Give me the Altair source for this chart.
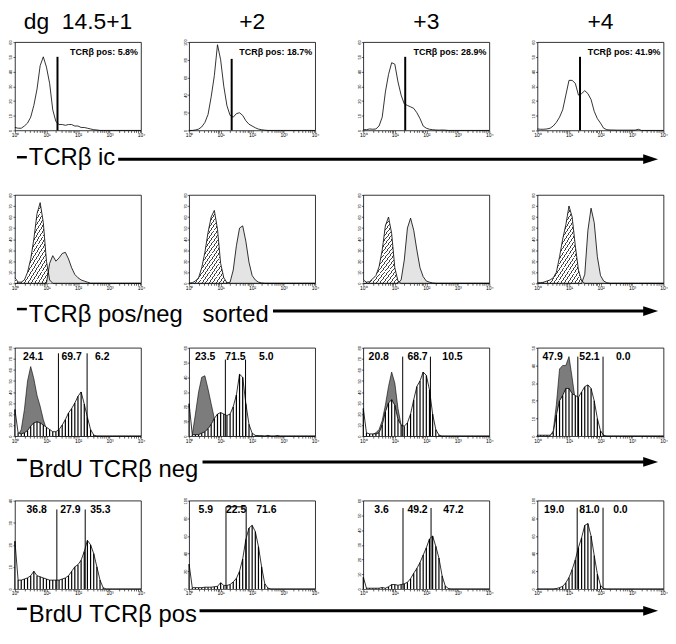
import altair as alt
import pandas as pd

# ---------------- data ----------------
# histogram bins on a log10 fluorescence axis (0 .. 4 decades)
LOG_BINS = [round(0.1 * i, 1) for i in range(41)]

DAY_TITLES = ["dg\u00a0\u00a014.5+1", "+2", "+3", "+4"]
ROW_LABELS = ["TCRβ ic", "TCRβ pos/neg\u00a0\u00a0 sorted", "BrdU TCRβ neg", "BrdU TCRβ pos"]

# row 1 : intracellular TCRβ
ic_d1 = [2, 1.5, 1.5, 3, 5, 9, 17, 28, 44, 50, 43, 32, 14, 6, 4, 4, 3.5, 4, 4, 3, 3, 2, 2, 1.5, 1, 0.5, 0.3,
         0, 0, 0, 0, 0, 0, 0, 0, 0, 0, 0, 0, 0, 0]
ic_d2 = [0, 0, 0.5, 1.5, 4, 9, 18, 38, 62, 97, 80, 50, 28, 17, 15, 19, 20, 17, 11, 7, 5, 3, 1.5, 0.8, 0.3,
         0, 0, 0, 0, 0, 0, 0, 0, 0, 0, 0, 0, 0, 0, 0, 0]
ic_d3 = [0.5, 0.5, 1, 0.8, 1, 3, 9, 26, 38, 46, 45, 33, 24, 18, 17, 16, 15, 12, 8, 3, 1.5, 0.8, 0.5, 0.3, 0.2, 0.3, 0.2,
         0, 0, 0, 0, 0, 0, 0, 0, 0, 0, 0, 0, 0, 0]
ic_d4 = [1, 0.8, 0.8, 1, 1.5, 3, 5.5, 9, 14, 24, 34, 34, 32, 24, 25, 27, 25, 21, 13, 8, 5, 1.5, 0.5, 0.3, 0.3,
         0.2, 0.2, 0.2, 0.2, 0.2, 0.2, 0.2, 0.8, 0, 0, 0, 0, 0, 0, 0, 0]
IC_GATE = [1.35, 1.35, 1.33, 1.35]
IC_GATE_TOP = [50, 81, 50, 50]
IC_TEXT = ["TCRβ pos: 5.8%", "TCRβ pos: 18.7%", "TCRβ pos: 28.9%", "TCRβ pos: 41.9%"]
Y_MAX_R1 = [60, 100, 60, 60]

# row 2 : sorted TCRβ negative (hatched) / positive (dotted)
neg_d1 = [5, 1, 1, 3, 10, 22, 40, 63, 73, 55, 20, 3, 0] + [0] * 28
pos_d1 = [0] * 11 + [18, 25, 20, 23, 27, 28, 22, 14, 8, 5, 3, 2, 1] + [0] * 17
neg_d2 = [0, 0.5, 2, 5, 14, 28, 46, 60, 66, 49, 18, 5, 0.5] + [0] * 28
pos_d2 = [0] * 13 + [1, 12, 34, 50, 52, 38, 19, 7, 3, 1, 0.3] + [0] * 17
neg_d3 = [3, 1, 1.5, 4, 7, 15, 30, 52, 60, 45, 14, 2] + [0] * 29
pos_d3 = [0] * 12 + [3, 21, 50, 59, 48, 30, 14, 6, 2, 1, 0.3] + [0] * 18
neg_d4 = [0.5, 0.5, 1, 2, 3, 5, 10, 24, 40, 53, 70, 60, 34, 12, 2] + [0] * 26
pos_d4 = [0] * 15 + [8, 48, 68, 55, 24, 7, 2, 0.5] + [0] * 18
Y_MAX_R2 = [80, 80, 80, 80]

# row 3 : BrdU in TCRβ negative cells (grey = control, striped = BrdU)
ctrl_neg_d1 = [0, 0.5, 6, 24, 50, 63, 52, 37, 27, 15, 6, 1.5] + [0] * 29
brdu_neg_d1 = [24, 3, 2, 3, 5, 9, 12, 13, 12, 10, 8, 6, 4, 4, 6, 10, 15, 21, 25, 30, 36, 40, 29, 17, 6, 1] + [0] * 15
ctrl_neg_d2 = [0, 1, 15, 30, 40, 41, 32, 22, 12, 6, 2] + [0] * 30
brdu_neg_d2 = [22, 1, 1, 1, 2, 3, 5, 8, 12, 15, 16, 15, 14, 15, 20, 28, 42, 40, 22, 8, 2, 0.5, 0.3, 0.3, 0, 0.5, 0, 0, 0.4] + [0] * 12
ctrl_neg_d3 = [0, 0, 0, 1.5, 3, 6, 14, 28, 45, 58, 48, 25, 10, 3, 0.5] + [0] * 26
brdu_neg_d3 = [25, 3, 2, 2, 2, 3, 10, 22, 30, 33, 28, 15, 10, 9, 12, 20, 33, 45, 50, 58, 55, 42, 20, 6, 1] + [0] * 16
ctrl_neg_d4 = [0, 0, 0, 0, 0, 3, 18, 38, 40, 40, 45, 33, 20, 10, 3, 0.5] + [0] * 25
brdu_neg_d4 = [0.5, 0.5, 0.5, 0.5, 0.5, 2, 12, 20, 23, 27, 27, 24, 23, 22, 25, 28, 29, 27, 20, 10, 3, 0.5] + [0] * 19
NEG_GATES = [[1.38, 2.29], [1.15, 1.79], [1.25, 2.13], [1.28, 2.08]]
NEG_GATE_TOP = [75, 52, 72, 45]
NEG_TEXT = [["24.1", "69.7", "6.2"], ["23.5", "71.5", "5.0"], ["20.8", "68.7", "10.5"], ["47.9", "52.1", "0.0"]]
NEG_TEXT_AT = [[0.58, 1.8, 2.77], [0.51, 1.47, 2.45], [0.49, 1.72, 2.83], [0.48, 1.65, 2.72]]
Y_MAX_R3 = [80, 60, 80, 50]

# row 4 : BrdU in TCRβ positive cells
brdu_pos_d1 = [21.6, 4, 4, 4.5, 5, 6, 8, 6, 5.5, 5, 4.5, 4, 4, 4, 4, 4.5, 5, 6, 8, 10, 11, 13, 17, 22, 20, 16, 10, 4, 0.5] + [0] * 12
brdu_pos_d2 = [28, 1.5, 1.5, 1.5, 1.5, 2, 2, 2, 2.5, 3, 7, 4, 4, 5, 8, 12, 20, 34, 56, 69, 72, 65, 48, 25, 6, 1] + [0] * 15
brdu_pos_d3 = [8, 0.5, 0.5, 0.5, 0.5, 0.5, 1, 0.5, 1.5, 3, 3, 2.5, 3, 3.5, 4.5, 7, 10.7, 14, 18, 23, 28, 34, 36, 29, 21, 9, 2, 0.3] + [0] * 13
brdu_pos_d4 = [0, 0, 0, 0, 0, 0, 0.5, 1.5, 3, 7, 13, 22, 33, 47, 58, 72, 74, 60, 38, 17, 4, 0.5] + [0] * 19
POS_GATES = [[1.33, 2.23], [1.17, 1.81], [1.26, 2.15], [1.26, 2.08]]
POS_GATE_TOP = [36, 93, 55, 92]
POS_BRACKET = [False, True, False, False]
POS_TEXT = [["36.8", "27.9", "35.3"], ["5.9", "22.5", "71.6"], ["3.6", "49.2", "47.2"], ["19.0", "81.0", "0.0"]]
POS_TEXT_AT = [[0.69, 1.76, 2.71], [0.53, 1.49, 2.45], [0.58, 1.72, 2.86], [0.53, 1.65, 2.63]]
Y_MAX_R4 = [40, 100, 60, 100]

# ---------------- layout / style ----------------
FONT = "Liberation Sans"
PANEL_W = 127
PANEL_H = 89
COL_GAP = 48.5
ROW_GAP = 65
LINE_Y = [29, 28, 26, 22]          # arrow line, below the row's plot bottom
TEXT_Y = [35, 39, 41, 33]          # label baseline, below the row's plot bottom
LINE_START = [104, 260, 189, 186]
ARROW_END = 634
ARROW_HEAD = 640.5

XTICKS = [k * 10 ** d for d in range(4) for k in range(1, 10)] + [10000]
X_LABELS = ("datum.value==1?'10⁰':datum.value==10?'10¹':datum.value==100?'10²':"
            "datum.value==1000?'10³':datum.value==10000?'10⁴':''")


def xenc(field):
    return alt.X(f"{field}:Q",
                 scale=alt.Scale(type="log", domain=[1, 10000]),
                 axis=alt.Axis(values=XTICKS, labelExpr=X_LABELS, tickSize=2, tickWidth=0.6,
                               tickColor="black", labelFontSize=5, labelPadding=0, labelFlush=False,
                               labelOverlap=False, grid=False, domain=False, labelColor="black",
                               labelFont=FONT, title=None))


def yenc(field, ymax):
    step = 20 if ymax >= 100 else 10
    return alt.Y(f"{field}:Q",
                 scale=alt.Scale(domain=[0, ymax], nice=False),
                 axis=alt.Axis(values=list(range(0, ymax + 1, step)), tickSize=2, tickWidth=0.6,
                               tickColor="black", labelFontSize=4, labelAngle=270, labelPadding=0,
                               grid=False, domain=False, labelColor="black", labelFont=FONT,
                               title=None))


def series_df(values):
    return pd.DataFrame({"fl": [10 ** b for b in LOG_BINS], "v": values, "zero": [0] * len(values)})


def hatch():
    stops = []
    n = 42
    for i in range(n):
        a = round(i / n, 4)
        b = round((i + 0.28) / n, 4)
        c = round((i + 1) / n, 4)
        stops += [alt.GradientStop(offset=a, color="#444444"), alt.GradientStop(offset=b, color="#444444"),
                  alt.GradientStop(offset=b, color="white"), alt.GradientStop(offset=c, color="white")]
    return alt.LinearGradient(gradient="linear", stops=stops, x1=0, y1=0, x2=1, y2=0.4)


VIEW = alt.ViewBackground(stroke="black", strokeWidth=0.8)


def decorations(r, c):
    """Day title (top row) and the row label with its arrow (first column)."""
    src = pd.DataFrame({"t": [ROW_LABELS[r]], "d": [DAY_TITLES[c]]})
    base = alt.Chart(src)
    out = []
    if r == 0:
        out.append(base.mark_text(align="center", baseline="alphabetic", font=FONT, fontSize=23,
                                  color="black").encode(
            x=alt.value(PANEL_W / 2), y=alt.value(-13), text="d:N"))
    if c == 0:
        ly = PANEL_H + LINE_Y[r]
        out.append(base.mark_rule(color="black", strokeWidth=2.5).encode(
            x=alt.value(2), x2=alt.value(12), y=alt.value(ly - 2)))
        out.append(base.mark_rule(color="black", strokeWidth=3).encode(
            x=alt.value(LINE_START[r]), x2=alt.value(ARROW_END), y=alt.value(ly)))
        out.append(base.mark_point(shape="M -1 -0.65 L 1 0 L -1 0.65 Z", filled=True, size=225,
                                   color="black", opacity=1).encode(
            x=alt.value(ARROW_HEAD), y=alt.value(ly)))
        out.append(base.mark_text(align="left", baseline="alphabetic", font=FONT, fontSize=24,
                                  color="black").encode(
            x=alt.value(14), y=alt.value(PANEL_H + TEXT_Y[r]), text="t:N"))
    return out


def finish(layers, r, c):
    return alt.layer(*(layers + decorations(r, c))).properties(width=PANEL_W, height=PANEL_H, view=VIEW)


def outline(d, ymax, w=0.8):
    return alt.Chart(d).mark_line(color="black", strokeWidth=w).encode(x=xenc("fl"), y=yenc("v", ymax))


def ic_panel(c):
    ymax = Y_MAX_R1[c]
    d = series_df([ic_d1, ic_d2, ic_d3, ic_d4][c])
    g = pd.DataFrame({"fl": [10 ** IC_GATE[c]], "zero": [0], "top": [IC_GATE_TOP[c]], "t": [IC_TEXT[c]]})
    gate = alt.Chart(g).mark_rule(color="black", strokeWidth=2).encode(
        x=xenc("fl"), y=yenc("zero", ymax), y2="top:Q")
    txt = alt.Chart(g).mark_text(align="right", baseline="middle", font=FONT, fontSize=9,
                                 fontWeight="bold", color="black").encode(
        x=alt.value(PANEL_W - 3), y=alt.value(10), text="t:N")
    return finish([outline(d, ymax), gate, txt], 0, c)


def sorted_panel(c):
    ymax = Y_MAX_R2[c]
    dn = series_df([neg_d1, neg_d2, neg_d3, neg_d4][c])
    dp = series_df([pos_d1, pos_d2, pos_d3, pos_d4][c])
    an = alt.Chart(dn).mark_area(color=hatch()).encode(x=xenc("fl"), y=yenc("v", ymax))
    ap = alt.Chart(dp).mark_area(color="#e4e4e4").encode(x=xenc("fl"), y=yenc("v", ymax))
    return finish([an, ap, outline(dn, ymax), outline(dp, ymax)], 1, c)


def striped_layers(d, ymax):
    white = alt.Chart(d).mark_area(color="white").encode(x=xenc("fl"), y=yenc("v", ymax))
    stripes = alt.Chart(d).transform_filter("datum.v > 0").mark_rule(color="black", strokeWidth=1.2).encode(
        x=xenc("fl"), y=yenc("zero", ymax), y2="v:Q")
    return [white, stripes, outline(d, ymax)]


def gate_layers(gates, top, texts, text_at, ymax, bracket=False):
    g = pd.DataFrame({"fl": [10 ** v for v in gates], "zero": [0, 0], "top": [top, top]})
    t = pd.DataFrame({"fl": [10 ** v for v in text_at], "t": texts})
    out = [alt.Chart(g).mark_rule(color="black", strokeWidth=1).encode(
        x=xenc("fl"), y=yenc("zero", ymax), y2="top:Q")]
    if bracket:
        b = pd.DataFrame({"fl": [10 ** gates[0]], "fl2": [10 ** gates[1]], "top": [top]})
        out.append(alt.Chart(b).mark_rule(color="black", strokeWidth=1).encode(
            x=xenc("fl"), x2="fl2:Q", y=yenc("top", ymax)))
    out.append(alt.Chart(t).mark_text(baseline="middle", align="center", font=FONT, fontSize=10.5,
                                      fontWeight="bold", color="black").encode(
        x=xenc("fl"), y=alt.value(9), text="t:N"))
    return out


def brdu_neg_panel(c):
    ymax = Y_MAX_R3[c]
    dc = series_df([ctrl_neg_d1, ctrl_neg_d2, ctrl_neg_d3, ctrl_neg_d4][c])
    db = series_df([brdu_neg_d1, brdu_neg_d2, brdu_neg_d3, brdu_neg_d4][c])
    grey = alt.Chart(dc).mark_area(color="#7c7c7c").encode(x=xenc("fl"), y=yenc("v", ymax))
    layers = [grey, outline(dc, ymax, 0.6)] + striped_layers(db, ymax)
    layers += gate_layers(NEG_GATES[c], NEG_GATE_TOP[c], NEG_TEXT[c], NEG_TEXT_AT[c], ymax)
    return finish(layers, 2, c)


def brdu_pos_panel(c):
    ymax = Y_MAX_R4[c]
    db = series_df([brdu_pos_d1, brdu_pos_d2, brdu_pos_d3, brdu_pos_d4][c])
    layers = striped_layers(db, ymax)
    layers += gate_layers(POS_GATES[c], POS_GATE_TOP[c], POS_TEXT[c], POS_TEXT_AT[c], ymax, POS_BRACKET[c])
    return finish(layers, 3, c)


builders = [ic_panel, sorted_panel, brdu_neg_panel, brdu_pos_panel]
panels = [builders[r](c) for r in range(4) for c in range(4)]

chart = alt.concat(*panels, columns=4, spacing={"row": ROW_GAP, "column": COL_GAP}, bounds="flush").properties(
    padding=0, background="white"
).configure_view(strokeWidth=0).configure(font=FONT)

chart.save("out.html", embed_options={"renderer": "svg", "actions": False})
